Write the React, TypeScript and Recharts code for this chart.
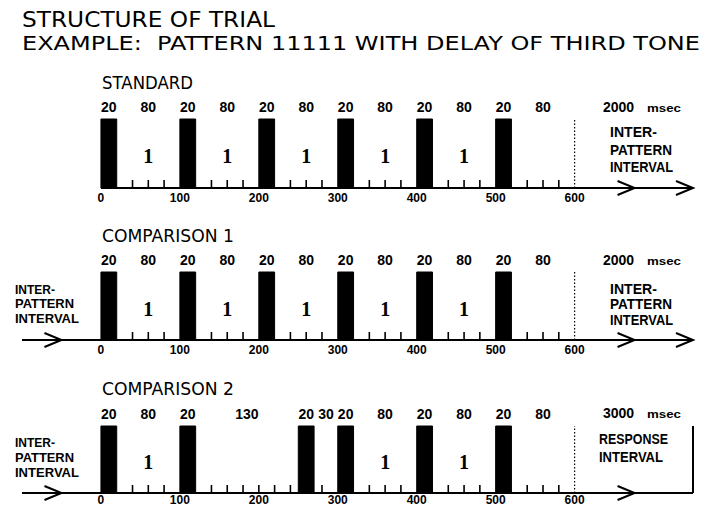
import React from "react";
import {
  ComposedChart,
  XAxis,
  YAxis,
  ReferenceArea,
  ReferenceLine,
  ReferenceDot,
  Scatter,
} from "recharts";

// tone onsets (msec) for each pattern
const standardOnsets = [0, 100, 200, 300, 400, 500];
const comparison1Onsets = [0, 100, 200, 300, 400, 500];
const comparison2Onsets = [0, 100, 250, 300, 400, 500];
const toneMs = 20;
const patternEndMs = 600;
const axisTicks = [0, 100, 200, 300, 400, 500, 600];
const panelNames = ["STANDARD", "COMPARISON 1", "COMPARISON 2"];
const intervalMs = ["2000", "2000", "3000"];

const DOMAIN: [number, number] = [-100, 750];
const BOLD = "'Liberation Sans', Arial, sans-serif";
const PLAIN = "'DejaVu Sans', sans-serif";

function buildPanel(onsets: number[]) {
  const tones = onsets.map((o) => ({ x1: o, x2: o + toneMs }));
  const gaps = onsets.map((o, i) => ({
    start: o + toneMs,
    end: i < onsets.length - 1 ? onsets[i + 1] : patternEndMs,
  }));
  const topLabels = new Map<number, string>();
  tones.forEach((t) => topLabels.set((t.x1 + t.x2) / 2, String(toneMs)));
  gaps.forEach((g) => topLabels.set((g.start + g.end) / 2, String(g.end - g.start)));
  // 20 msec grid marks inside the silent gaps
  const minor: number[] = [];
  gaps.forEach((g) => {
    for (let t = Math.floor(g.start / 20) * 20 + 20; t < g.end; t += 20) minor.push(t);
  });
  // a "1" for every inter-onset interval of one unit (100 msec)
  const ones = onsets
    .slice(0, -1)
    .map((o, i) => ({ diff: onsets[i + 1] - o, x: (o + toneMs + onsets[i + 1]) / 2, y: 0.46 }))
    .filter((d) => d.diff === 100);
  return { tones, topLabels, minor, ones };
}

type PanelProps = {
  onsets: number[];
  top: number;
  plotH: number;
  lineFrom: number;
  leftArrow: boolean;
  closed: boolean;
  labelDy?: number;
};

const Arrow = (p: any) => (
  <path
    d={`M${p.cx - 17},${p.cy - 7} L${p.cx},${p.cy} L${p.cx - 17},${p.cy + 7}`}
    fill="none"
    stroke="#000"
    strokeWidth={2}
  />
);

function Panel({ onsets, top, plotH, lineFrom, leftArrow, closed, labelDy = 10 }: PanelProps) {
  const { tones, topLabels, minor, ones } = buildPanel(onsets);
  const topTicks = Array.from(topLabels.keys()).sort((a, b) => a - b);
  const height = 22 + plotH + 18;
  const tickH = 8 / plotH;
  return (
    <div style={{ position: "absolute", left: 0, top, width: 704, height }}>
      <ComposedChart width={704} height={height} margin={{ top: 0, right: 11, bottom: 0, left: 22 }}>
        <XAxis
          xAxisId="top"
          orientation="top"
          type="number"
          dataKey="x"
          domain={DOMAIN}
          allowDataOverflow
          ticks={topTicks}
          interval={0}
          height={22}
          tickSize={0}
          tickMargin={0}
          tickLine={false}
          axisLine={false}
          tick={(p: any) => (
            <text
              x={p.x}
              y={p.y - 12}
              textAnchor="middle"
              dominantBaseline="central"
              fontFamily={BOLD}
              fontWeight="bold"
              fontSize={14}
            >
              {topLabels.get(p.payload.value)}
            </text>
          )}
        />
        <XAxis
          type="number"
          dataKey="x"
          domain={DOMAIN}
          allowDataOverflow
          ticks={axisTicks}
          interval={0}
          height={18}
          tickSize={0}
          tickMargin={0}
          tickLine={false}
          axisLine={false}
          tick={(p: any) => (
            <text
              x={p.x}
              y={p.y + labelDy}
              textAnchor="middle"
              dominantBaseline="central"
              fontFamily={BOLD}
              fontWeight="bold"
              fontSize={12}
            >
              {p.payload.value}
            </text>
          )}
        />
        <YAxis hide type="number" dataKey="y" domain={[0, 1]} allowDataOverflow />
        {tones.map((t, i) => (
          <ReferenceArea
            key={i}
            x1={t.x1}
            x2={t.x2}
            y1={0}
            y2={1}
            fill="#000"
            fillOpacity={1}
            stroke="#000"
            strokeWidth={1}
          />
        ))}
        {minor.map((t) => (
          <ReferenceLine
            key={`m${t}`}
            segment={[
              { x: t, y: 0 },
              { x: t, y: tickH },
            ]}
            stroke="#000"
            strokeWidth={1.6}
          />
        ))}
        <ReferenceLine x={patternEndMs} stroke="#000" strokeWidth={1.2} strokeDasharray="1.5 2" />
        <ReferenceLine
          segment={[
            { x: lineFrom, y: 0 },
            { x: DOMAIN[1], y: 0 },
          ]}
          stroke="#000"
          strokeWidth={2}
        />
        {leftArrow && <ReferenceDot x={-50} y={0} r={0} shape={Arrow} />}
        <ReferenceDot x={676} y={0} r={0} shape={Arrow} />
        {closed ? (
          <ReferenceLine x={DOMAIN[1]} stroke="#000" strokeWidth={2} />
        ) : (
          <ReferenceDot x={DOMAIN[1]} y={0} r={0} shape={Arrow} />
        )}
        <Scatter
          data={ones}
          isAnimationActive={false}
          shape={(p: any) => (
            <text
              x={p.cx}
              y={p.cy}
              textAnchor="middle"
              dominantBaseline="central"
              fontFamily="'Liberation Serif', serif"
              fontWeight="bold"
              fontSize={20}
            >
              1
            </text>
          )}
        />
      </ComposedChart>
    </div>
  );
}

function Lines({ x, ys, lines, widths, size = 14 }: { x: number; ys: number[]; lines: string[]; widths: number[]; size?: number }) {
  return (
    <>
      {lines.map((l, i) => (
        <text
          key={i}
          x={x}
          y={ys[i]}
          dominantBaseline="central"
          fontFamily={BOLD}
          fontWeight="bold"
          fontSize={size}
          textLength={widths[i]}
          lengthAdjust="spacingAndGlyphs"
        >
          {l}
        </text>
      ))}
    </>
  );
}

const IPI = ["INTER-", "PATTERN", "INTERVAL"];

export default function App() {
  const panelTitleY = [82, 235, 388];
  const msecY = [107, 260, 413];
  return (
    <div style={{ position: "absolute", left: 0, top: 0, width: 704, height: 506, background: "#fff", overflow: "hidden" }}>
      <Panel onsets={standardOnsets} top={97} plotH={69} lineFrom={0} leftArrow={false} closed={false} />
      <Panel onsets={comparison1Onsets} top={250} plotH={68} lineFrom={-100} leftArrow closed={false} />
      <Panel onsets={comparison2Onsets} top={404} plotH={67} lineFrom={-100} leftArrow closed labelDy={7} />
      <svg width={704} height={506} style={{ position: "absolute", left: 0, top: 0, pointerEvents: "none" }}>
        <text x={22} y={20} dominantBaseline="central" fontFamily={PLAIN} fontSize={21} textLength={253} lengthAdjust="spacingAndGlyphs">
          STRUCTURE OF TRIAL
        </text>
        <text
          x={22}
          y={43}
          dominantBaseline="central"
          fontFamily={PLAIN}
          fontSize={20}
          textLength={678}
          lengthAdjust="spacingAndGlyphs"
          style={{ whiteSpace: "pre" }}
        >
          {"EXAMPLE:  PATTERN 11111 WITH DELAY OF THIRD TONE"}
        </text>
        {panelNames.map((n, i) => (
          <text
            key={n}
            x={102}
            y={panelTitleY[i]}
            dominantBaseline="central"
            fontFamily={PLAIN}
            fontSize={18}
            textLength={i === 0 ? 91 : 132}
            lengthAdjust="spacingAndGlyphs"
          >
            {n}
          </text>
        ))}
        {intervalMs.map((v, i) => (
          <g key={i}>
            <text x={603} y={msecY[i]} dominantBaseline="central" fontFamily={BOLD} fontWeight="bold" fontSize={14}>
              {v}
            </text>
            <text x={647} y={msecY[i] + 1} dominantBaseline="central" fontFamily={BOLD} fontWeight="bold" fontSize={11} textLength={34} lengthAdjust="spacingAndGlyphs">
              msec
            </text>
          </g>
        ))}
        <Lines x={610} ys={[132, 150, 167]} lines={IPI} widths={[47, 62, 63]} />
        <Lines x={610} ys={[289, 304, 320]} lines={IPI} widths={[47, 62, 63]} />
        <Lines x={15} ys={[289, 303, 318]} lines={IPI} widths={[40, 59, 64]} size={13} />
        <Lines x={15} ys={[442, 457, 472]} lines={IPI} widths={[40, 59, 64]} size={13} />
        <Lines x={599} ys={[439, 457]} lines={["RESPONSE", "INTERVAL"]} widths={[69, 64]} />
      </svg>
    </div>
  );
}
